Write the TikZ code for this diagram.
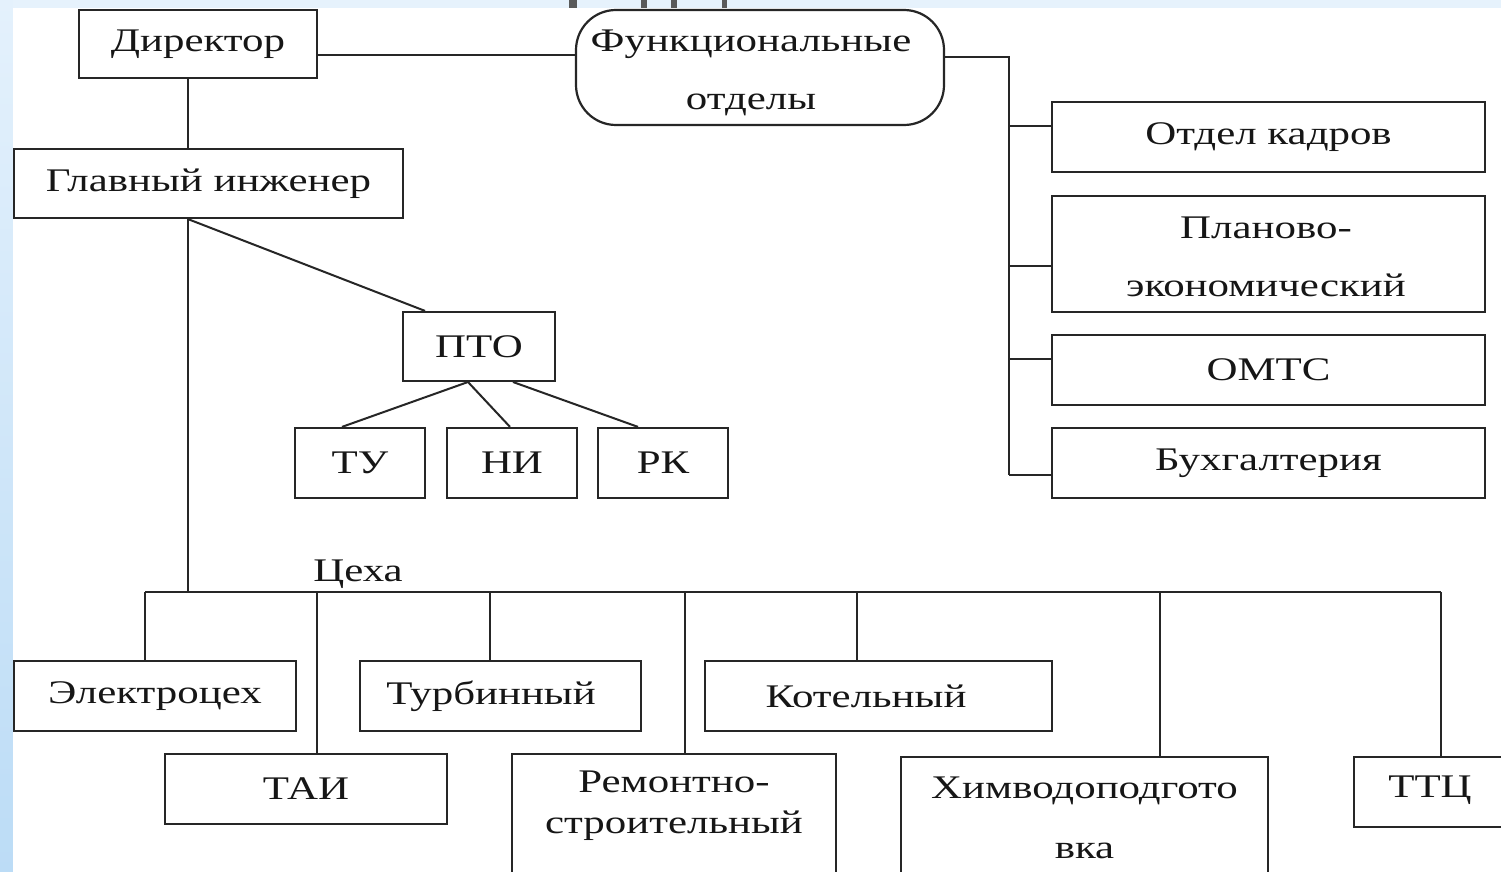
\documentclass[tikz,border=0pt]{standalone}
\usepackage{fontspec}
\setmainfont{Liberation Serif}[FakeStretch=1.3]
\definecolor{linec}{HTML}{262626}
\definecolor{txt}{HTML}{161616}
\definecolor{bgA}{HTML}{E4F1FC}
\definecolor{bgB}{HTML}{BCDCF6}
\definecolor{bgT}{HTML}{E6F2FC}
\definecolor{markc}{HTML}{5A5A5A}
\newcommand\fsOne{\fontsize{33}{40}\selectfont}
\newcommand\fsTwo{\fontsize{33}{58}\selectfont}
\newcommand\fsRem{\fontsize{33}{41}\selectfont}
\newcommand\fsHim{\fontsize{33}{60}\selectfont}
\begin{document}
\begin{tikzpicture}[x=1pt,y=-1pt,
  box/.style={draw=linec, line width=2.2pt, rectangle, inner sep=0pt, align=center, text=txt, font=\fsOne},
  rbox/.style={box, rounded corners=40pt},
  lbl/.style={inner sep=0pt, align=center, text=txt, font=\fsOne},
  conn/.style={draw=linec, line width=2pt},
]
\useasboundingbox (0,0) rectangle (1501,872);
\clip (0,0) rectangle (1501,872);
% background
\shade[top color=bgA, bottom color=bgB] (0,0) rectangle (13,872);
\fill[bgT] (13,0) rectangle (1501,8);
\fill[white] (13,8) rectangle (1501,872);
\foreach \a/\b in {569/577, 641/647, 671/677, 722/727}
  \fill[markc] (\a,0) rectangle (\b,8);

% top part
\node[box, minimum width=238pt, minimum height=68pt] (dir) at (198,44) {Директор};
\node[rbox, minimum width=368pt, minimum height=115pt] (func) at (760,67.5) {};
\node[lbl, font=\fsTwo] (funct) at (751,73) {Функциональные\\отделы};
\node[box, minimum width=389pt, minimum height=69pt] (gi) at (208.5,183.5) {Главный инженер};
\node[box, minimum width=152pt, minimum height=69pt] (pto) at (479,346.5) {ПТО};
\node[box, minimum width=130pt, minimum height=70pt] (tu) at (360,463) {ТУ};
\node[box, minimum width=130pt, minimum height=70pt] (ni) at (512,463) {НИ};
\node[box, minimum width=130pt, minimum height=70pt] (rk) at (663,463) {РК};

% right column
\node[box, minimum width=433pt, minimum height=70pt] (ok) at (1268.5,137) {Отдел кадров};
\node[box, minimum width=433pt, minimum height=116pt] (plan) at (1268.5,254) {};
\node[lbl, font=\fsTwo] (plant) at (1266,257) {Планово-\\экономический};
\node[box, minimum width=433pt, minimum height=70pt] (omts) at (1268.5,370) {ОМТС};
\node[box, minimum width=433pt, minimum height=70pt] (buh) at (1268.5,463) {Бухгалтерия};

% workshops
\node[lbl] (ceha) at (358,574) {Цеха};
\node[box, minimum width=282pt, minimum height=70pt] (el) at (155,696) {Электроцех};
\node[box, minimum width=281pt, minimum height=70pt] (turb) at (500.5,696) {\hspace*{-19pt}Турбинный};
\node[box, minimum width=347pt, minimum height=70pt] (kot) at (878.5,696) {\hspace*{-25pt}Котельный};
\node[box, minimum width=282pt, minimum height=70pt] (tai) at (306,789) {ТАИ};
\node[box, minimum width=324pt, minimum height=136pt] (rem) at (674,822) {};
\node[lbl, font=\fsRem] (remt) at (674,806) {Ремонтно-\\строительный};
\node[box, minimum width=367pt, minimum height=133pt] (him) at (1084.5,823.5) {};
\node[lbl, font=\fsHim] (himt) at (1084.5,818) {Химводоподгото\\вка};
\node[box, minimum width=166pt, minimum height=70pt] (ttc) at (1437,792) {};
\node[lbl] (ttct) at (1430,790) {ТТЦ};

% helper coordinates
\coordinate (y55) at (0,55);
\coordinate (fb) at (1009,57);
\coordinate (vx) at (188,0);
\coordinate (ptox) at (425,0);
\coordinate (bus) at (188,592);
\coordinate (busL) at (145,592);
\coordinate (busR) at (1441,592);
\coordinate (pb1) at (468,382);
\coordinate (pb2) at (513,382);

% connectors
\draw[conn] (dir.east |- y55) -- (func.west |- y55);
\draw[conn] (func.east |- fb) -- (fb) -- (fb |- 0,475);
\draw[conn] (fb |- 0,126) -- (ok.west |- 0,126);
\draw[conn] (fb |- 0,266) -- (plan.west |- 0,266);
\draw[conn] (fb |- 0,359) -- (omts.west |- 0,359);
\draw[conn] (fb |- 0,475) -- (buh.west |- 0,475);
\draw[conn] (dir.south -| vx) -- (gi.north -| vx);
\draw[conn] (gi.south -| vx) -- (pto.north -| ptox);
\draw[conn] (gi.south -| vx) -- (bus);
\draw[conn] (pb1) -- (tu.north -| 342,0);
\draw[conn] (pb1) -- (ni.north -| 510,0);
\draw[conn] (pb2) -- (rk.north -| 638,0);
\draw[conn] (busL) -- (busR);
\draw[conn] (busL) -- (el.north -| busL);
\draw[conn] (317,592) -- (tai.north -| 317,0);
\draw[conn] (490,592) -- (turb.north -| 490,0);
\draw[conn] (685,592) -- (rem.north -| 685,0);
\draw[conn] (857,592) -- (kot.north -| 857,0);
\draw[conn] (1160,592) -- (him.north -| 1160,0);
\draw[conn] (busR) -- (ttc.north -| busR);
\end{tikzpicture}
\end{document}
